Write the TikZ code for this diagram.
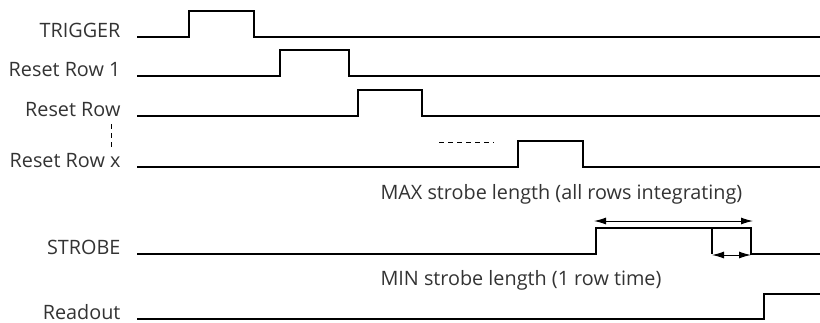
\documentclass[tikz,border=0pt]{standalone}
\usepackage{fontspec}
\setsansfont{Open Sans}
\usepackage{tikz}
\usetikzlibrary{arrows.meta,positioning,calc}

\begin{document}
\begin{tikzpicture}[x=1pt,y=-1pt,>={Latex[length=12pt,width=7pt]},
    font=\sffamily\fontsize{19.8}{22}\selectfont,line width=1.1pt,
    sigl/.style={anchor=base east,inner sep=0pt,text=black!80},
    note/.style={anchor=base west,inner sep=0pt,text=black!80},
    dots/.style={line width=0.9pt,dash pattern=on 5pt off 4pt}]
        \useasboundingbox (0,0) rectangle (820,322);
        % signals with one pulse
        \foreach \name/\txt/\y/\up/\dn in {trig/TRIGGER/37/189/254,rowone/Reset Row 1/76/280/349,
            row/Reset Row/116/358/422,rowx/Reset Row x/167/518/583,strobe/STROBE/254/596/751}
        {
        \node [sigl] (\name) at (121,\y) {\txt};
        \draw (137,\y) -- (\up,\y) -- (\up,\y-26) -- (\dn,\y-26) -- (\dn,\y) -- (820,\y);
        }
        \node [sigl] (readout) at (121,319) {Readout};
        \draw (137,319) -- (764,319) -- (764,294) -- (820,294);
        % rows in between
        \draw [dots] (111,124) -- (111,150);
        \draw [dots] (439,142) -- (494,142);
        % strobe lengths
        \node [note] (maxlen) at (380,199) {MAX strobe length (all rows integrating)};
        \node [note] (minlen) at (380,285) {MIN strobe length (1 row time)};
        \draw (712,229) -- (712,254);
        \coordinate (maxa) at (594,221);
        \coordinate (maxb) at (753,221);
        \coordinate (mina) at (712,255);
        \coordinate (minb) at (751,255);
        \draw [<->,line width=1pt] (maxa) -- (maxb);
        \draw [<->,line width=1pt] (mina) -- (minb);
    \end{tikzpicture}
\end{document}
